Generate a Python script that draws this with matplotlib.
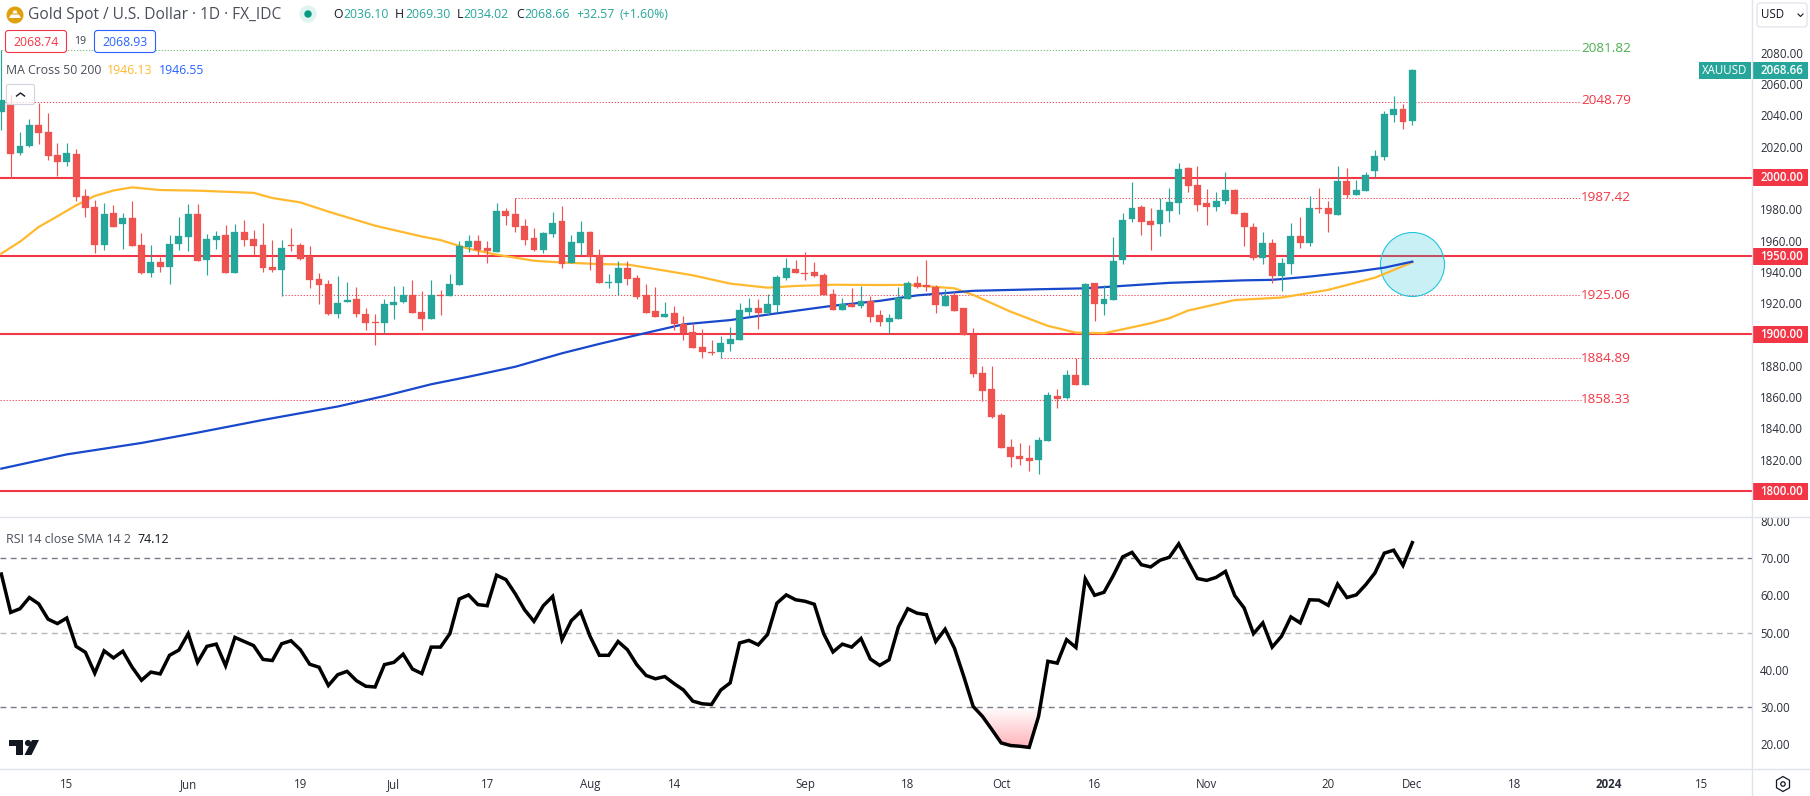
import numpy as np
import matplotlib
matplotlib.use("Agg")
import matplotlib.pyplot as plt
from matplotlib.colors import LinearSegmentedColormap
from matplotlib.patches import Rectangle, FancyBboxPatch, Circle, Polygon, RegularPolygon

plt.rcParams['font.family'] = ['Open Sans', 'DejaVu Sans']

opens = [2042,2047.3,2016,2020.4,2033.9,2029.4,2014.7,2010.2,2015.3,1988.5,1981.5,1957.2,1977.6,1970.6,1974.4,1957.2,1939.3,1946.3,1943.1,1957.8,
 1962.3,1977,1947.6,1960.4,1963.6,1939.3,1965.5,1961,1957.2,1943.1,1941.2,1957.2,1957.2,1950.2,1935.5,1932.3,1913.1,1920.8,1922.7,1913.1,
 1908,1907.3,1918.9,1920.8,1925.2,1914.4,1909.9,1925.2,1924.6,1931.6,1955.9,1959.7,1955.2,1952.7,1978.9,1977,1969.3,1961.6,1954,1964.2,
 1972.5,1945.7,1958.4,1965.5,1950.8,1933.1,1932.9,1942.5,1936,1925.2,1915,1911.1,1913.7,1906.7,1901.6,1892,1888.8,1888.8,1893.9,1896.5,
 1914.4,1916.9,1913.7,1918.8,1936.1,1941.8,1939.3,1939.9,1938,1925.8,1915.6,1919.5,1918.2,1921.4,1912.4,1908,1910,1922.7,1932.9,1931.7,
 1930.4,1918.2,1925.3,1917,1899.7,1875.4,1865.2,1848.6,1828.1,1822.4,1821.1,1819.8,1832,1860.7,1859.4,1874.1,1867.8,1932.9,1919.5,1922,
 1947.6,1973.8,1981.5,1972.6,1970.6,1979,1984,2006.4,1995.6,1984,1981.5,1985.3,1992.4,1977.7,1968.7,1948.9,1958.5,1937.4,1945,1963,
 1958.5,1980.9,1980.9,1976.4,1998.1,1989.2,1991.7,2004.5,2013.4,2040.2,2044,2036.1]
closes = [2049.8,2015.5,2020.4,2033.9,2028.8,2014,2010.2,2016,1987.9,1980.8,1957.2,1977,1968.7,1974.4,1956.6,1939.3,1946.3,1943.1,1957.8,1962.9,
 1977,1947,1961,1962.9,1939.3,1965.5,1960.4,1956.6,1942.5,1941.2,1955.3,1956.6,1948.2,1934.8,1931.6,1913.1,1920.1,1922,1913.1,1907.3,
 1907.5,1919.5,1920.8,1925.2,1913.7,1909.9,1925.2,1924.8,1932.2,1956.5,1959.7,1954,1953.3,1978.9,1975.7,1968.7,1960.4,1954,1964.8,1971.2,
 1945,1959,1965.5,1949.5,1932.9,1933.5,1942.5,1935.4,1923.9,1913.7,1911.1,1913,1906.7,1900.9,1891.3,1888.8,1888.4,1894.5,1897.1,1915.6,
 1916.9,1913.7,1919.5,1936.7,1942.5,1939.3,1938.9,1937.4,1925.2,1915.6,1919.5,1917.5,1921.4,1911.1,1908,1910.6,1923.3,1932.9,1930.4,1930.4,
 1918.9,1924.6,1915,1899.7,1874.8,1863.9,1847.3,1827.5,1821.7,1820.5,1819.2,1832.6,1861.4,1858.8,1874.1,1867.8,1932.3,1919.5,1922.7,1947,
 1973.2,1980.9,1971.9,1970,1979.6,1984.7,2005.8,1994.9,1982.8,1981.5,1985.3,1992.4,1977,1968.7,1948.9,1958.5,1937.4,1945.7,1963,1958.5,
 1980.9,1980.2,1977,1998.1,1989.2,1992.4,2001.9,2014.1,2040.9,2044,2035.7,2068.66]
highs = [2081.8,2053,2029.4,2037.7,2047.9,2041.5,2022.4,2022.4,2018.5,1993,1985.9,1984,1982.7,1977.6,1985.3,1964.9,1957.2,1949.7,1963.6,1975,
 1983.4,1983.4,1964.2,1966.1,1970,1970.6,1973.2,1966.8,1971.2,1960.4,1960.4,1968,1958.5,1956.6,1939.3,1934.8,1937.4,1933.5,1930.4,1916.9,
 1913.1,1922.7,1931,1931,1934.8,1927.8,1934.8,1928.4,1938.6,1959.7,1963.6,1963.6,1959.7,1984,1980.8,1987.2,1973.8,1968,1965.5,1978.2,
 1982,1963.6,1972.5,1966.1,1954.6,1938.6,1946.9,1946.9,1938,1932.2,1930.3,1920.7,1918.2,1911.8,1907.3,1903.5,1896.5,1899,1904.8,1920.1,
 1923.3,1922.7,1925.8,1938,1948.9,1947.6,1952.7,1946.3,1939.3,1929,1923.3,1929.7,1931,1924.6,1915.6,1913.1,1930.4,1934.2,1937.4,1947.6,
 1931.7,1929,1927.2,1917,1904.2,1879.9,1879.9,1849.9,1833.3,1830.7,1829.4,1834.5,1863.3,1865.2,1877.3,1885,1932.9,1932.9,1931.7,1962.3,
 1977.7,1997.5,1982.8,1980.9,1987.2,1993.6,2009.6,2007,2007.7,1993,1991.1,2003.9,1993,1978.3,1971.3,1965.5,1961,1948.9,1971.3,1975.1,
 1988.5,1993.6,1985.3,2007.7,2006.4,1998.7,2003.9,2017.9,2042.8,2052.4,2047.2,2069.3]
lows = [2030.7,2000,2014.7,2019.8,2021.7,2011.5,2001.3,2007.7,1985.3,1975,1952,1954,1968.7,1954.6,1956.6,1938.7,1936.7,1939.9,1932.3,1954,
 1953.4,1947,1938,1954.6,1939.3,1939.3,1956.6,1950.2,1939.9,1939.9,1924.8,1953.4,1947.6,1929.7,1919.5,1912.5,1910.5,1920.8,1911.2,1902.9,
 1893.3,1901,1909.9,1920.1,1913.7,1902.9,1909.9,1912.5,1924.6,1931.6,1952.7,1950.8,1945.7,1952.7,1969.9,1965.5,1957.2,1953.3,1952,1962.3,
 1942.5,1945.7,1950.8,1941.2,1932.9,1929.7,1925.2,1931.6,1922.7,1913.7,1911.1,1911.1,1902.8,1896.5,1891.3,1885,1887.1,1884.7,1889.4,1896.5,
 1911.8,1903.5,1912.4,1914.4,1934.8,1939.3,1934.8,1936.7,1925.2,1915.6,1915.6,1917.5,1916.9,1908,1905.4,1901,1910,1922.7,1929.7,1927.8,
 1913.8,1918.2,1915,1899.7,1872.9,1857.5,1846.7,1827.5,1815.4,1816.6,1812.8,1810.9,1832,1853.1,1858.8,1867.8,1867.8,1908.6,1912.5,1922,
 1945,1971.9,1963.6,1954,1963,1971.9,1977,1991.1,1979,1970,1979,1983.4,1977,1956.6,1947.6,1945,1932.9,1927.8,1938.7,1955.3,
 1956.6,1977.7,1965.5,1976.4,1987.2,1989.2,1991.7,2000.7,2011.5,2035.7,2031.3,2034.02]

ma50_bars = [0,2,4,6,8,10,12,14,17,21,27,29,32,35,40,45,47,50,53,57,60,64,67,70,74,78,82,85,89,94,97,102,104,108,112,115,118,120,123,125,127,132,137,142,147,151]
ma50_vals = [1951.7,1959.3,1968.7,1975.5,1982.5,1988.5,1992,1994,1992.3,1991.9,1990.5,1987.2,1984.4,1978.5,1969.5,1962.6,1960.3,1954.8,1951,1947.1,1946,1945,1944.7,1941.8,1937.8,1932.5,1929.9,1931,1931.8,1931.6,1931.7,1929.5,1925.3,1914.6,1905.5,1901.2,1900.8,1903.3,1907.2,1910.4,1915.3,1922,1923.6,1928.5,1936.3,1946.13]
ma200_bars = [0,7,15,21,28,36,41,46,50,55,60,64,69,73,78,82,89,94,98,104,111,116,125,133,136,140,145,148,151]
ma200_vals = [1814.3,1823.4,1830.7,1837.3,1845.4,1854,1860.7,1868.2,1873,1879.4,1888,1894,1901,1906.5,1909.2,1912.7,1918.4,1921.5,1925,1927.9,1928.9,1929.5,1933,1934.6,1934.9,1937,1940.2,1942.7,1946.55]

rsi = [65.7,55.4,56.4,59.4,57.7,53.6,52.4,53.9,46.3,44.7,39.1,45.1,43.2,45,40.7,37.2,39.4,38.9,43.9,45.3,
 49.7,42,46.3,46.9,41.1,48.7,47.6,46.5,42.8,42.5,47,47.8,45.4,41.5,40.7,35.8,38.7,39.6,37.1,35.6,
 35.4,41.4,42,44.2,40.2,39,46.1,46.1,49.7,59,60.1,57.5,57.2,65.4,64.2,60.4,56.1,53,57.2,59.7,
 48.1,53.2,55.6,49,43.9,43.9,47.6,45.4,41.4,38.5,37.6,38.2,36.3,34.6,31.6,30.9,30.7,34.6,36.5,47.2,
 47.9,46.7,49.5,57.9,60.1,58.8,58.4,57.6,49.7,44.8,46.9,46.1,48.4,42.9,41.2,42.7,51.5,56.4,55.2,54.8,
 47.6,50.9,45.8,38.2,30.2,27.5,24,20.4,19.7,19.5,19.2,27.5,42.3,41.8,48.1,46,64.4,60,60.8,65.3,
 70.3,71.5,68.2,67.6,69.4,70.2,73.8,69.1,64.5,64,64.8,66.4,59.9,56.6,49.7,52.6,46.1,49,54.2,52.6,
 58.8,58.7,57.3,63,59.4,60.1,62.8,66,71.3,72.1,68,74.12]

round_levels = [2000, 1950, 1900, 1800]
dotted_levels = [2081.82, 2048.79, 1987.42, 1925.06, 1884.89, 1858.33]
dotted_start = [0, 0, 55, 30, 77, -0.142]
price_ticks = [2080, 2060, 2040, 2020, 1980, 1960, 1940, 1920, 1880, 1860, 1840, 1820]
rsi_ticks = [80, 70, 60, 50, 40, 30, 20]
time_ticks = [7, 20, 32, 42, 52, 63, 72, 86, 97, 107, 117, 129, 142, 151, 162, 172, 182]
time_labels = ['15', 'Jun', '19', 'Jul', '17', 'Aug', '14', 'Sep', '18', 'Oct', '16', 'Nov', '20', 'Dec', '18', '2024', '15']

UP, DOWN, RED, GOLD, BLUE = '#26a69a', '#ef5350', '#f23645', '#ffb92e', '#1848cc'
TXT = '#2a2e39'
W, H = 1810, 796
AXR, PANE, TIME = 1752, 517, 769
XL = (-0.142, 187.35)
PL = (1783.4, 2113.7)
RL = (13.4, 81.0)

fig = plt.figure(figsize=(W / 100, H / 100), dpi=100, facecolor='white')
ax = fig.add_axes([0, (H - PANE) / H, AXR / W, PANE / H])
ar = fig.add_axes([0, (H - TIME) / H, AXR / W, (TIME - PANE) / H])
ov = fig.add_axes([0, 0, 1, 1], zorder=10)
ov.set_xlim(0, W); ov.set_ylim(H, 0); ov.axis('off'); ov.patch.set_alpha(0)

def py(p):
    return PANE * (PL[1] - p) / (PL[1] - PL[0])

x = np.arange(len(closes))
o, c = np.array(opens), np.array(closes)
cols = [UP if cc >= oo else DOWN for oo, cc in zip(opens, closes)]

# main pane
for lv in round_levels:
    ax.axhline(lv, color=RED, lw=1.5, zorder=1)
for lv, st in zip(dotted_levels, dotted_start):
    col = '#66bb6a' if lv > 2070 else RED
    ax.hlines(lv, st, 169, color=col, lw=0.75, linestyles=(0, (1.2, 1.7)), alpha=0.9, zorder=1)
    ax.text(169.05, lv + 0.6 if lv > 2000 else lv, f'{lv:.2f}', color='#4caf50' if lv > 2070 else RED,
            fontsize=9.7, va='center', ha='left')
ax.scatter([151], [1945], s=2123, facecolor=(0.0, 0.74, 0.83, 0.21), edgecolor='#22c5dc', lw=0.8, zorder=2)
ax.plot(ma50_bars, ma50_vals, color=GOLD, lw=1.6, zorder=3)
ax.plot(ma200_bars, ma200_vals, color=BLUE, lw=1.6, zorder=3)
ax.vlines(x, lows, highs, colors=cols, lw=0.85, zorder=4)
ax.bar(x, np.abs(c - o), bottom=np.minimum(o, c), width=0.74, color=cols, edgecolor=cols, lw=0.2, zorder=5)

ax.set_xlim(*XL); ax.set_ylim(*PL)
ax.set_xticks([])
ax.yaxis.tick_right()
ax.set_yticks(price_ticks)
ax.set_yticklabels([f'{v:.2f}' for v in price_ticks])
ax.tick_params(axis='y', length=0, pad=5.76, labelsize=8.3, labelcolor=TXT)
for s in ax.spines.values():
    s.set_visible(False)

# RSI pane
ra = np.array(rsi)
ar.axhline(70, color='#787b86', lw=1, dashes=(4.2, 3.2))
ar.axhline(50, color='#b4b6bc', lw=1, dashes=(4.2, 3.2))
ar.axhline(30, color='#787b86', lw=1, dashes=(4.2, 3.2))
poly = ar.fill_between(x, ra, 30, where=ra < 30, interpolate=True, color='none', lw=0)
cm = LinearSegmentedColormap.from_list('rsi', ['#ffffff', '#ffb3ba'])
grad = np.linspace(1, 0, 64).reshape(-1, 1)
im = ar.imshow(grad, extent=[100, 115, 19, 30], origin='lower', aspect='auto', cmap=cm, zorder=1)
im.set_clip_path(poly.get_paths()[0], transform=ar.transData)
ar.plot(x, rsi, color='black', lw=2.5, solid_joinstyle='miter', zorder=3)
ar.set_xlim(*XL); ar.set_ylim(*RL)
ar.yaxis.tick_right()
ar.set_yticks(rsi_ticks)
ar.set_yticklabels([f'{v:.2f}' for v in rsi_ticks])
ar.tick_params(axis='y', length=0, pad=5.76, labelsize=8.3, labelcolor=TXT)
ar.set_xticks(time_ticks)
ar.set_xticklabels(time_labels)
ar.tick_params(axis='x', length=0, pad=6.5, labelsize=8.3, labelcolor=TXT)
for lab in ar.get_xticklabels():
    if lab.get_text() == '2024':
        lab.set_fontweight('bold')
for s in ar.spines.values():
    s.set_visible(False)

# pane lines
LINE = '#e0e3eb'
ov.plot([AXR, AXR], [0, H], color=LINE, lw=1)
ov.plot([0, W], [PANE, PANE], color=LINE, lw=1)
ov.plot([0, W], [TIME, TIME], color=LINE, lw=1)

# price tags
for lv in round_levels:
    yy = py(lv)
    ov.add_patch(Rectangle((AXR, yy - 8.5), 56, 17, fc=RED, ec='none'))
    ov.text(1760, yy, f'{lv:.2f}', color='white', fontsize=8.3, va='center', ha='left', fontweight='semibold')
yy = py(closes[-1])
ov.add_patch(Rectangle((AXR, yy - 8.5), 56, 17, fc=UP, ec='none'))
ov.add_patch(Rectangle((1699, yy - 8.5), 52, 17, fc=UP, ec='none'))
ov.text(1760, yy, f'{closes[-1]:.2f}', color='white', fontsize=8.3, va='center', ha='left', fontweight='semibold')
ov.text(1725, yy, 'XAUUSD', color='white', fontsize=8.3, va='center', ha='center')

# USD button
ov.add_patch(FancyBboxPatch((1757, 3), 50, 24, boxstyle='round,pad=0,rounding_size=3', fc='white', ec=LINE, lw=0.9))
ov.text(1760.5, 15, 'USD', color='#131722', fontsize=8.3, va='center', ha='left')
ov.plot([1798, 1800.5, 1803], [14, 16.5, 14], color='#131722', lw=0.8)

# header
ov.add_patch(Circle((15, 15), 8.5, fc='#e0a00c', ec='none'))
ov.add_patch(Polygon([(9, 18), (11, 14.5), (19, 14.5), (21, 18)], fc='white', ec='none'))
ov.add_patch(Polygon([(12.5, 13.5), (13.5, 10.5), (16.5, 10.5), (17.5, 13.5)], fc='white', ec='none'))
ov.text(28, 15, 'Gold Spot / U.S. Dollar · 1D · FX_IDC', color='#4a4e5a', fontsize=11.2, va='center', ha='left')
ov.add_patch(Circle((308, 14), 8.5, fc='#dff3f0', ec='none'))
ov.add_patch(Circle((308, 14), 3.7, fc='#089981', ec='none'))
for pre, px, val, vx in [('O', 333, '2036.10', 343.3), ('H', 395, '2069.30', 405),
                         ('L', 456.7, '2034.02', 463.7), ('C', 516, '2068.66', 524)]:
    ov.text(px, 15, pre, color='#131722', fontsize=8.8, va='center', ha='left')
    ov.text(vx, 15, val, color=UP, fontsize=8.8, va='center', ha='left')
ov.text(576.7, 15, '+32.57', color=UP, fontsize=8.8, va='center', ha='left')
ov.text(619, 15, '(+1.60%)', color=UP, fontsize=8.8, va='center', ha='left')

# spread badges
ov.add_patch(FancyBboxPatch((5.5, 30.5), 61, 22, boxstyle='round,pad=0,rounding_size=3', fc='white', ec=RED, lw=0.8, zorder=3))
ov.text(36, 42, '2068.74', color=RED, fontsize=8.8, va='center', ha='center', zorder=4)
ov.text(80.5, 42, '19', color='#3a3e4a', fontsize=7.6, va='center', ha='center')
ov.add_patch(FancyBboxPatch((94.5, 30.5), 61, 22, boxstyle='round,pad=0,rounding_size=3', fc='white', ec='#2962ff', lw=0.8, zorder=3))
ov.text(125, 42, '2068.93', color='#2962ff', fontsize=8.8, va='center', ha='center', zorder=4)

# indicator legends
ov.text(6, 70, 'MA Cross 50 200', color='#4a4e5a', fontsize=8.8, va='center', ha='left')
ov.text(107, 70, '1946.13', color=GOLD, fontsize=8.8, va='center', ha='left')
ov.text(159, 70, '1946.55', color='#2962ff', fontsize=8.8, va='center', ha='left')
ov.add_patch(FancyBboxPatch((6.5, 84.5), 28, 20, boxstyle='round,pad=0,rounding_size=2', fc=(1, 1, 1, 0.75), ec='#d1d4dc', lw=0.8))
ov.plot([16.5, 20.5, 24.5], [96, 93, 96], color='#131722', lw=1)
ov.text(6, 539.5, 'RSI 14 close SMA 14 2', color='#4a4e5a', fontsize=8.9, va='center', ha='left')
ov.text(137.6, 539.5, '74.12', color='#131722', fontsize=8.9, va='center', ha='left')

# logo
ov.add_patch(Polygon([(9, 740), (23, 740), (23, 755), (15.5, 755), (15.5, 746), (9, 746)], fc='#131722', ec='none'))
ov.add_patch(Circle((28, 743), 3.1, fc='#131722', ec='none'))
ov.add_patch(Polygon([(32, 740), (39, 740), (31.5, 755), (24.5, 755)], fc='#131722', ec='none'))

# settings icon
ov.add_patch(RegularPolygon((1783, 784), 6, radius=7.5, fc='white', ec='#131722', lw=0.9))
ov.add_patch(Circle((1783, 784), 2.2, fc='white', ec='#131722', lw=0.9))

fig.savefig('out.png', dpi=100, facecolor='white')
